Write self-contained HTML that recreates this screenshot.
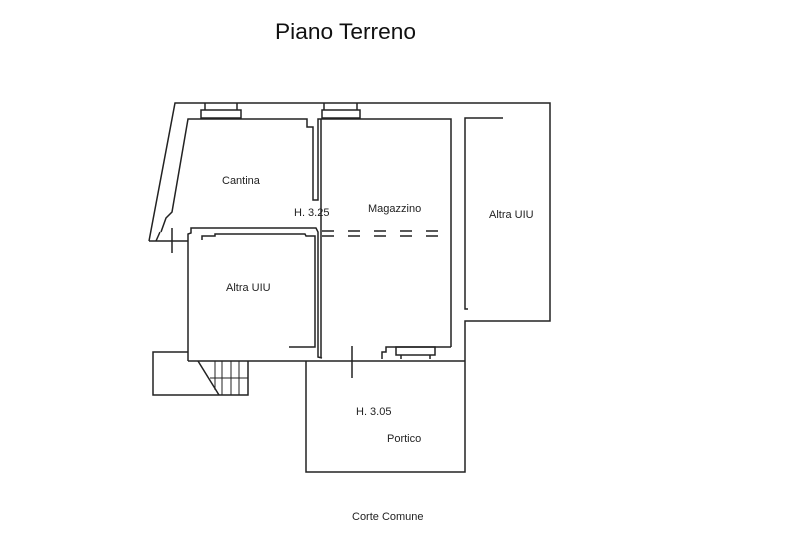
<!DOCTYPE html>
<html><head><style>body{margin:0;background:#fff}svg{display:block}</style></head>
<body>
<svg width="800" height="533" viewBox="0 0 800 533" xmlns="http://www.w3.org/2000/svg" font-family="Liberation Sans, sans-serif" fill="none" stroke="#222" stroke-width="1.5">
<text x="275" y="39" font-size="22" fill="#111" stroke="none" textLength="141" lengthAdjust="spacingAndGlyphs">Piano Terreno</text>
<!-- outer -->
<polyline points="149,241 175,103 550,103 550,321 465,321 465,472 306,472 306,361"/>
<line x1="149" y1="241" x2="188" y2="241"/>
<!-- windows top -->
<rect x="201" y="110" width="40" height="8"/><line x1="205" y1="103" x2="205" y2="110"/><line x1="237" y1="103" x2="237" y2="110"/>
<rect x="322" y="110" width="38" height="8"/><line x1="324" y1="103" x2="324" y2="110"/><line x1="357" y1="103" x2="357" y2="110"/>
<!-- cantina -->
<polyline points="161,232 166,218 172,212 188,119 307,119 307,127 313,127 313,200 318,200 318,119 451,119 451,347"/>
<polyline points="160,232 156,241"/>
<line x1="172" y1="228" x2="172" y2="253"/>
<!-- altra uiu left -->
<polyline points="188,361 188,234 191,233 191,228 316,228 318,232 318,357 322,358"/>
<polyline points="202,240 202,236 215,236 215,234 305,234 306,236 315,236 315,347 289,347"/>
<line x1="321" y1="119" x2="321" y2="357"/>
<g stroke-dasharray="12,14"><line x1="322" y1="231" x2="447" y2="231"/><line x1="322" y1="236" x2="447" y2="236"/></g>
<polyline points="382,359 382,352 386,352 386,347 451,347"/>
<rect x="396" y="347" width="39" height="8"/><line x1="401" y1="355" x2="401" y2="359"/><line x1="430" y1="355" x2="430" y2="359"/>
<line x1="352" y1="346" x2="352" y2="378"/>
<line x1="188" y1="361" x2="465" y2="361"/>
<polyline points="503,118 465,118 465,309 468,309"/>
<polyline points="188,352 153,352 153,395 248,395 248,361"/>
<line x1="198" y1="361" x2="219" y2="395"/>
<g stroke-width="1">
<line x1="215" y1="361" x2="215" y2="390"/><line x1="222" y1="361" x2="222" y2="395"/><line x1="231" y1="361" x2="231" y2="395"/><line x1="239" y1="361" x2="239" y2="395"/>
<line x1="210" y1="378" x2="248" y2="378"/>
</g>
<g fill="#222" stroke="none" font-size="11">
<text x="222" y="184">Cantina</text>
<text x="294" y="216">H. 3.25</text>
<text x="368" y="212">Magazzino</text>
<text x="489" y="218">Altra UIU</text>
<text x="226" y="291">Altra UIU</text>
<text x="356" y="415">H. 3.05</text>
<text x="387" y="442">Portico</text>
<text x="352" y="520">Corte Comune</text>
</g>
</svg>
</body></html>
